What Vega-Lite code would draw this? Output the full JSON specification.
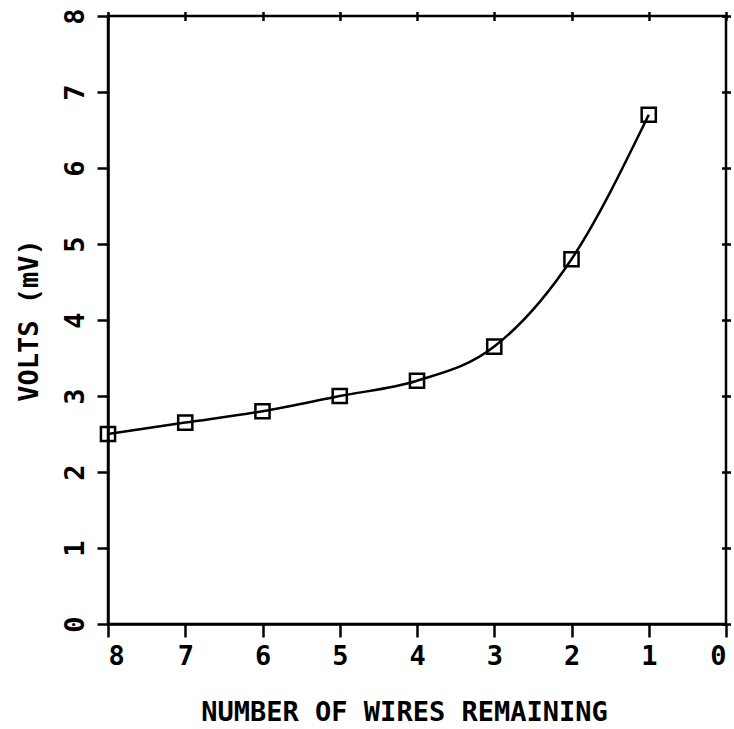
{
  "$schema": "https://vega.github.io/schema/vega-lite/v6.json",
  "width": 618,
  "height": 608,
  "autosize": {"type": "none"},
  "padding": {"left": 108, "top": 16, "right": 8, "bottom": 105},
  "background": "white",
  "config": {
    "view": {"stroke": "black", "strokeWidth": 2.5},
    "axis": {
      "grid": false,
      "domainColor": "black",
      "domainWidth": 2.5,
      "tickColor": "black",
      "tickWidth": 2.5,
      "labelColor": "black",
      "titleColor": "black",
      "labelFont": "DejaVu Sans Mono",
      "titleFont": "DejaVu Sans Mono",
      "labelFontSize": 27,
      "titleFontSize": 27,
      "labelFontWeight": "bold",
      "titleFontWeight": "bold"
    }
  },
  "data": {
    "values": [
      {"wires": 8, "volts": 2.5},
      {"wires": 7, "volts": 2.65},
      {"wires": 6, "volts": 2.8},
      {"wires": 5, "volts": 3.0},
      {"wires": 4, "volts": 3.2},
      {"wires": 3, "volts": 3.65},
      {"wires": 2, "volts": 4.8},
      {"wires": 1, "volts": 6.7}
    ]
  },
  "resolve": {"axis": {"x": "independent", "y": "independent"}},
  "layer": [
    {
      "mark": {"type": "line", "interpolate": "monotone", "color": "black", "strokeWidth": 2.5},
      "encoding": {
        "x": {
          "field": "wires", "type": "quantitative",
          "scale": {"domain": [0, 8], "reverse": true, "nice": false},
          "axis": {
            "orient": "bottom", "values": [0,1,2,3,4,5,6,7,8], "tickSize": 13,
            "labelPadding": 6, "title": "NUMBER OF WIRES REMAINING", "titlePadding": 30,
            "titleX": 296, "titleAlign": "center"
          }
        },
        "y": {
          "field": "volts", "type": "quantitative",
          "scale": {"domain": [0, 8], "nice": false},
          "axis": {
            "orient": "left", "values": [0,1,2,3,4,5,6,7,8], "tickSize": 11,
            "labelAngle": -90, "labelPadding": 8, "labelAlign": "center", "labelBaseline": "bottom",
            "title": "VOLTS (mV)", "titlePadding": 18
          }
        }
      }
    },
    {
      "mark": {"type": "point", "shape": "square", "filled": false, "color": "black", "size": 200, "strokeWidth": 2.5, "opacity": 1},
      "encoding": {
        "x": {
          "field": "wires", "type": "quantitative",
          "scale": {"domain": [0, 8], "reverse": true, "nice": false},
          "axis": {"orient": "top", "values": [0,1,2,3,4,5,6,7,8], "labels": false, "domain": false, "tickSize": 9, "offset": -4.5, "title": null}
        },
        "y": {
          "field": "volts", "type": "quantitative",
          "scale": {"domain": [0, 8], "nice": false},
          "axis": {"orient": "right", "values": [0,1,2,3,4,5,6,7,8], "labels": false, "domain": false, "tickSize": 9, "offset": -4.5, "title": null}
        }
      }
    }
  ]
}
